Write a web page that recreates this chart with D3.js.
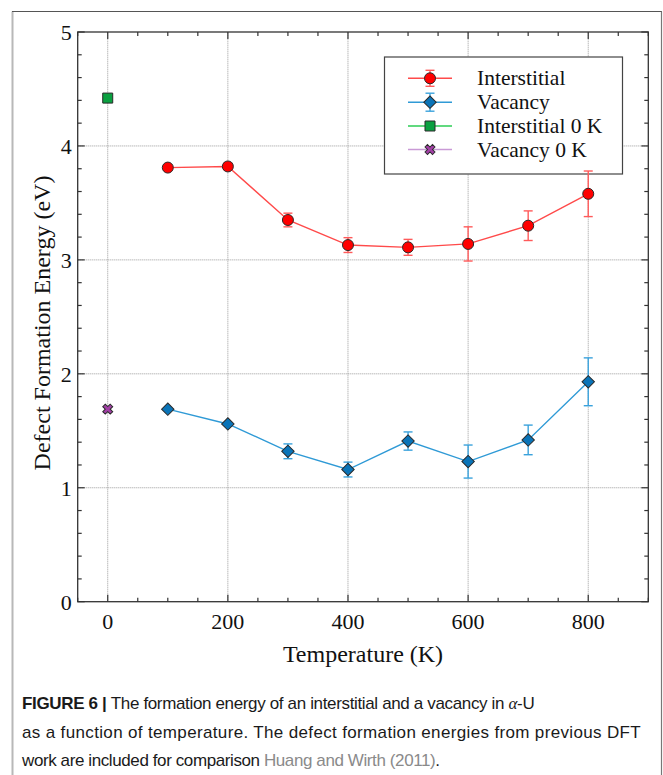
<!DOCTYPE html>
<html><head><meta charset="utf-8">
<script src="https://cdn.jsdelivr.net/npm/d3@7"></script>
<style>
  body { margin: 0; background: #fff; }
  svg { display: block; }
</style>
</head><body>
<svg id="fig" width="663" height="775"></svg>
<script>
// Defect formation energies in alpha-U vs temperature
const temps = [100, 200, 300, 400, 500, 600, 700, 800];
const interstitial    = [3.81, 3.82, 3.35, 3.13, 3.11, 3.14, 3.30, 3.58];
const interstitialErr = [0.00, 0.03, 0.06, 0.065, 0.07, 0.15, 0.13, 0.20];
const vacancy         = [1.69, 1.56, 1.32, 1.16, 1.41, 1.23, 1.42, 1.93];
const vacancyErr      = [0.00, 0.00, 0.065, 0.065, 0.08, 0.145, 0.13, 0.21];
// earlier DFT values at 0 K
const interstitial0K = [4.42];
const vacancy0K      = [1.69];
const zeroK = [0];
const xTicks = [0, 200, 400, 600, 800];
const yTicks = [0, 1, 2, 3, 4, 5];
const legendLabels = ["Interstitial", "Vacancy", "Interstitial 0 K", "Vacancy 0 K"];

const svg = d3.select("#fig");
const serif = "'Liberation Serif', 'Times New Roman', serif";

// outer figure frame
svg.append("line").attr("x1", 12.5).attr("y1", 11.5).attr("x2", 12.5).attr("y2", 775)
  .attr("stroke", "#b8b8b8").attr("stroke-width", 2);
svg.append("line").attr("x1", 12).attr("y1", 11.5).attr("x2", 662).attr("y2", 11.5)
  .attr("stroke", "#555").attr("stroke-width", 1.2);
svg.append("line").attr("x1", 661.5).attr("y1", 11.5).attr("x2", 661.5).attr("y2", 775)
  .attr("stroke", "#777").attr("stroke-width", 1.2);

const x = d3.scaleLinear().domain([-50, 900]).range([77.7, 648.3]);
const y = d3.scaleLinear().domain([0, 5]).range([601.7, 32]);
const [x0, x1] = x.range();
const [yb, yt] = y.range();

// dotted grid at major ticks
const grid = svg.append("g").attr("stroke", "#9a9a9a").attr("stroke-width", 1)
  .attr("stroke-dasharray", "1,1");
grid.selectAll(".gx").data(xTicks).join("line")
  .attr("x1", d => x(d)).attr("x2", d => x(d)).attr("y1", yb).attr("y2", yt);
grid.selectAll(".gy").data(yTicks.slice(1, -1)).join("line")
  .attr("x1", x0).attr("x2", x1).attr("y1", d => y(d)).attr("y2", d => y(d));

// inward ticks on all four sides
const axisColor = "#333";
const minorX = d3.range(-50, 901, 50);
const minorY = d3.range(0, 5.001, 0.2).map(v => +v.toFixed(1));
const isMajorX = v => v % 200 === 0;
const isMajorY = v => Math.abs(v - Math.round(v)) < 1e-6;
const ticks = svg.append("g").attr("stroke", axisColor).attr("stroke-width", 1.2);
minorX.forEach(v => {
  const L = isMajorX(v) ? 7 : 4;
  ticks.append("line").attr("x1", x(v)).attr("x2", x(v)).attr("y1", yb).attr("y2", yb - L);
  ticks.append("line").attr("x1", x(v)).attr("x2", x(v)).attr("y1", yt).attr("y2", yt + L);
});
minorY.forEach(v => {
  const L = isMajorY(v) ? 7 : 4;
  ticks.append("line").attr("x1", x0).attr("x2", x0 + L).attr("y1", y(v)).attr("y2", y(v));
  ticks.append("line").attr("x1", x1).attr("x2", x1 - L).attr("y1", y(v)).attr("y2", y(v));
});
svg.append("rect").attr("x", x0).attr("y", yt).attr("width", x1 - x0).attr("height", yb - yt)
  .attr("fill", "none").attr("stroke", axisColor).attr("stroke-width", 1.3);

// tick labels
svg.append("g").selectAll("text").data(xTicks).join("text")
  .attr("x", d => x(d)).attr("y", yb + 27).attr("text-anchor", "middle")
  .attr("font-family", serif).attr("font-size", 22).attr("fill", "#111").text(d => d);
svg.append("g").selectAll("text").data(yTicks).join("text")
  .attr("x", x0 - 6).attr("y", d => y(d) + 8).attr("text-anchor", "end")
  .attr("font-family", serif).attr("font-size", 22).attr("fill", "#111").text(d => d);

// axis titles
svg.append("text").attr("x", (x0 + x1) / 2).attr("y", 662).attr("text-anchor", "middle")
  .attr("font-family", serif).attr("font-size", 24).attr("fill", "#111").text("Temperature (K)");
svg.append("text").attr("transform", "translate(50,323) rotate(-90)")
  .attr("text-anchor", "middle").attr("font-family", serif).attr("font-size", 24)
  .attr("fill", "#111").text("Defect Formation Energy (eV)");

// series styles
const styles = [
  { line: "#ff4a4a", fill: "#ff0000", shape: d3.symbolCircle, size: 95, rot: 0, err: "#ff5a5a" },
  { line: "#2f9ad6", fill: "#0a74b8", shape: d3.symbolSquare, size: 77, rot: 45, err: "#3aa2dc" },
  { line: "#2ccc55", fill: "#0aa040", shape: d3.symbolSquare, size: 100, rot: 0 },
  { line: "#c99ad6", fill: "#a23fa6", shape: d3.symbolCross, size: 62, rot: 45 }
];
const markerStroke = "#2a2a2a";

// legend (drawn beneath the data so tall error bars stay visible)
const lg = svg.append("g");
lg.append("rect").attr("x", 384.5).attr("y", 57).attr("width", 238).attr("height", 117)
  .attr("fill", "#fff").attr("stroke", "#444").attr("stroke-width", 1.2);
const legendY = [78.3, 102.2, 126, 149.5];
const legendErr = [8, 9, 0, 0];
legendLabels.forEach((lab, i) => {
  const st = styles[i], cy = legendY[i];
  lg.append("line").attr("x1", 408).attr("x2", 452).attr("y1", cy).attr("y2", cy)
    .attr("stroke", st.line).attr("stroke-width", 1.4);
  if (legendErr[i] > 0) {
    const e = legendErr[i];
    const eg = lg.append("g").attr("stroke", st.err || st.line).attr("stroke-width", 1.4);
    eg.append("line").attr("x1", 430).attr("x2", 430).attr("y1", cy - e).attr("y2", cy + e);
    eg.append("line").attr("x1", 425.5).attr("x2", 434.5).attr("y1", cy - e).attr("y2", cy - e);
    eg.append("line").attr("x1", 425.5).attr("x2", 434.5).attr("y1", cy + e).attr("y2", cy + e);
  }
  lg.append("path").attr("d", d3.symbol().type(st.shape).size(st.size))
    .attr("transform", `translate(430,${cy}) rotate(${st.rot})`)
    .attr("fill", st.fill).attr("stroke", markerStroke).attr("stroke-width", 1);
  lg.append("text").attr("x", 477).attr("y", cy + 7).attr("font-family", serif)
    .attr("font-size", 21.5).attr("fill", "#111").text(lab);
});

function drawSeries(xs, vals, errs, st) {
  const pts = xs.map((t, i) => ({ t, v: vals[i], e: errs ? errs[i] : 0 }));
  const g = svg.append("g");
  if (pts.length > 1) {
    g.append("path").datum(pts)
      .attr("d", d3.line().x(d => x(d.t)).y(d => y(d.v)))
      .attr("fill", "none").attr("stroke", st.line).attr("stroke-width", 1.4);
  }
  const eb = g.append("g").attr("stroke", st.err || st.line).attr("stroke-width", 1.4);
  pts.filter(d => d.e > 0).forEach(d => {
    const cx = x(d.t), ylo = y(d.v - d.e), yhi = y(d.v + d.e);
    eb.append("line").attr("x1", cx).attr("x2", cx).attr("y1", ylo).attr("y2", yhi);
    eb.append("line").attr("x1", cx - 4.5).attr("x2", cx + 4.5).attr("y1", ylo).attr("y2", ylo);
    eb.append("line").attr("x1", cx - 4.5).attr("x2", cx + 4.5).attr("y1", yhi).attr("y2", yhi);
  });
  g.selectAll(".m").data(pts).join("path")
    .attr("d", d3.symbol().type(st.shape).size(st.size))
    .attr("transform", d => `translate(${x(d.t)},${y(d.v)}) rotate(${st.rot})`)
    .attr("fill", st.fill).attr("stroke", markerStroke).attr("stroke-width", 1);
}

drawSeries(temps, interstitial, interstitialErr, styles[0]);
drawSeries(temps, vacancy, vacancyErr, styles[1]);
drawSeries(zeroK, interstitial0K, null, styles[2]);
drawSeries(zeroK, vacancy0K, null, styles[3]);

// caption
const sans = "'Liberation Sans', Arial, sans-serif";
const cap = svg.append("g").attr("font-family", sans).attr("font-size", 17).attr("fill", "#1a1a1a");
const l1 = cap.append("text").attr("x", 22).attr("y", 709).attr("letter-spacing", -0.35);
l1.append("tspan").attr("font-weight", "bold").text("FIGURE 6 | ");
l1.append("tspan").text("The formation energy of an interstitial and a vacancy in ");
l1.append("tspan").attr("font-family", serif).attr("font-style", "italic").text("α");
l1.append("tspan").text("-U");
cap.append("text").attr("x", 22).attr("y", 738).attr("letter-spacing", 0.35)
  .text("as a function of temperature. The defect formation energies from previous DFT");
const l3 = cap.append("text").attr("x", 22).attr("y", 766).attr("letter-spacing", -0.4);
l3.append("tspan").text("work are included for comparison ");
l3.append("tspan").attr("fill", "#8a8a8a").text("Huang and Wirth (2011)");
l3.append("tspan").text(".");
</script>
</body></html>
